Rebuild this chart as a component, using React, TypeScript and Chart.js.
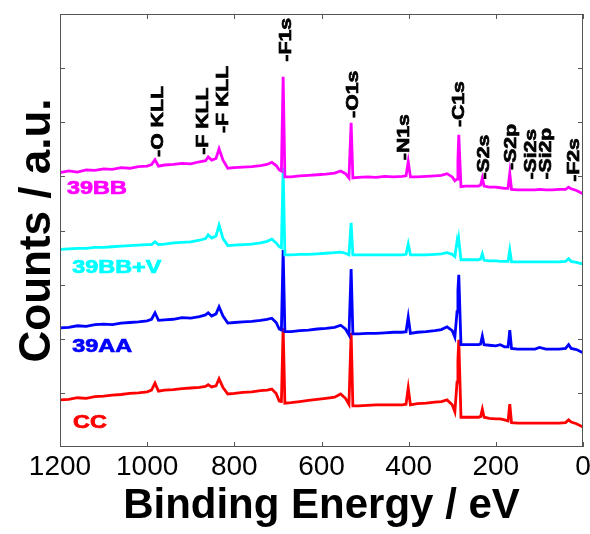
import React, { useEffect, useRef } from "react";
import { Chart, registerables } from "chart.js";

Chart.register(...registerables);

// ---------- data ----------
const energy = [
  1200, 1180, 1160, 1140, 1120, 1100, 1080, 1060, 1040, 1020,
  1000, 990, 982, 974, 960, 940, 920, 900, 880, 866,
  860, 852, 842, 835, 826, 815, 800, 780, 760, 740,
  725, 714, 704, 697, 692, 688, 684, 670, 650, 630,
  610, 590, 570, 556, 545, 537, 532, 528, 515, 495,
  475, 455, 435, 415, 406, 401, 396, 380, 360, 340,
  325, 312, 300, 294, 289, 287, 285, 280, 270, 255,
  240, 235, 231, 227, 215, 200, 190, 180, 172, 168,
  164, 150, 130, 110, 100, 85, 70, 55, 40, 33,
  27, 15, 0,
];

const counts39BB = [
  5.07, 5.1, 5.08, 5.12, 5.11, 5.14, 5.13, 5.16, 5.15, 5.18,
  5.19, 5.22, 5.31, 5.19, 5.21, 5.22, 5.24, 5.23, 5.27, 5.29,
  5.36, 5.3, 5.33, 5.51, 5.3, 5.15, 5.16, 5.17, 5.18, 5.2,
  5.22, 5.26, 5.2, 5.12, 5.1, 6.84, 4.99, 4.99, 5.01, 5.02,
  5.03, 5.04, 5.06, 5.1, 5.05, 4.97, 5.99, 4.97, 4.98, 4.99,
  4.98, 5.0, 4.99, 5.0, 5.01, 5.27, 4.99, 4.99, 5.0, 5.01,
  5.02, 5.05, 4.99, 4.92, 4.95, 5.3, 5.77, 4.81, 4.82, 4.82,
  4.82, 4.84, 4.97, 4.82, 4.8, 4.8, 4.79, 4.78, 4.78, 5.06,
  4.76, 4.75, 4.75, 4.75, 4.76, 4.75, 4.75, 4.76, 4.76, 4.8,
  4.77, 4.74, 4.68,
];

const counts39BBV = [
  3.65, 3.66, 3.67, 3.67, 3.69, 3.69, 3.7, 3.71, 3.72, 3.73,
  3.74, 3.74, 3.79, 3.74, 3.75, 3.77, 3.78, 3.79, 3.82, 3.85,
  3.92, 3.86, 3.9, 4.1, 3.85, 3.72, 3.73, 3.74, 3.75, 3.77,
  3.8, 3.84, 3.77, 3.7, 3.68, 5.16, 3.55, 3.55, 3.56, 3.56,
  3.57, 3.58, 3.59, 3.6, 3.58, 3.55, 4.14, 3.55, 3.55, 3.55,
  3.55, 3.55, 3.55, 3.55, 3.56, 3.75, 3.55, 3.55, 3.55, 3.56,
  3.57, 3.59, 3.56, 3.52, 3.8, 3.7, 3.83, 3.46, 3.46, 3.46,
  3.46, 3.47, 3.57, 3.45, 3.44, 3.44, 3.43, 3.43, 3.43, 3.64,
  3.42, 3.42, 3.42, 3.42, 3.42, 3.42, 3.42, 3.42, 3.43, 3.48,
  3.43, 3.41, 3.38,
];

const counts39AA = [
  2.2, 2.21, 2.24, 2.23, 2.26, 2.27, 2.26, 2.29, 2.3, 2.31,
  2.33, 2.36, 2.48, 2.34, 2.35, 2.36, 2.39, 2.38, 2.41, 2.44,
  2.48, 2.42, 2.46, 2.59, 2.42, 2.29, 2.3, 2.31, 2.32, 2.34,
  2.36, 2.38, 2.3, 2.18, 2.16, 3.64, 2.13, 2.13, 2.15, 2.16,
  2.18, 2.19, 2.21, 2.25, 2.18, 2.07, 3.29, 2.09, 2.09, 2.1,
  2.1, 2.11, 2.12, 2.12, 2.13, 2.4, 2.1, 2.12, 2.13, 2.15,
  2.17, 2.22, 2.15, 2.03, 2.5, 2.9, 3.18, 1.89, 1.89, 1.89,
  1.89, 1.9, 2.05, 1.89, 1.88, 1.87, 1.89, 1.85, 1.85, 2.16,
  1.82, 1.81, 1.81, 1.81, 1.84, 1.81, 1.81, 1.81, 1.82, 1.89,
  1.82, 1.8, 1.74,
];

const countsCC = [
  0.87, 0.88, 0.91, 0.9, 0.93, 0.94, 0.96, 0.97, 0.99, 1.0,
  1.02, 1.05, 1.18, 1.03, 1.05, 1.06, 1.08, 1.09, 1.1, 1.12,
  1.15, 1.11, 1.13, 1.26, 1.1, 0.98, 0.99, 1.01, 1.02, 1.04,
  1.05, 1.07, 0.99, 0.85, 0.84, 2.2, 0.81, 0.82, 0.84, 0.86,
  0.88, 0.9, 0.92, 0.98, 0.9, 0.79, 2.11, 0.76, 0.76, 0.77,
  0.78, 0.78, 0.78, 0.78, 0.79, 1.09, 0.78, 0.8, 0.81, 0.83,
  0.84, 0.87, 0.78, 0.65, 1.2, 1.6, 1.98, 0.55, 0.55, 0.55,
  0.55, 0.56, 0.7, 0.55, 0.53, 0.52, 0.52, 0.5, 0.48, 0.79,
  0.45, 0.44, 0.44, 0.44, 0.44, 0.44, 0.44, 0.44, 0.45, 0.5,
  0.46, 0.43, 0.37,
];

const seriesNames = ["39BB", "39BB+V", "39AA", "CC"];
const xTickValues = [1200, 1000, 800, 600, 400, 200, 0];
const yTickValues = [1, 2, 3, 4, 5, 6, 7];
const peakNames = ["-O KLL", "-F KLL", "-F KLL", "-F1s", "-O1s", "-N1s", "-C1s", "-S2s", "-S2p", "-Si2s", "-Si2p", "-F2s"];
const peakEnergies = [977, 874, 828, 684, 530, 413, 287, 230, 168, 122, 87, 23];

// ---------- layout / style (not data) ----------
const seriesColors = ["#ff00ff", "#00ffff", "#0000ff", "#ff0000"];
const seriesLabelAnchors = [
  { e: 1184, v: 4.77 },
  { e: 1172, v: 3.31 },
  { e: 1172, v: 1.85 },
  { e: 1170, v: 0.44 },
];
const peakLabelBases = [5.36, 5.4, 5.8, 7.12, 6.08, 5.3, 5.91, 4.94, 5.12, 4.94, 4.94, 4.9];
const FONT = '"Liberation Sans", Arial, Helvetica, sans-serif';

function stretchedText(ctx: CanvasRenderingContext2D, text: string, x: number, y: number, rot: number, stretch: number, stroke = 0) {
  ctx.save();
  ctx.translate(x, y);
  ctx.rotate(rot);
  ctx.scale(stretch, 1);
  ctx.fillText(text, 0, 0);
  if (stroke > 0) {
    ctx.lineWidth = stroke;
    ctx.strokeStyle = ctx.fillStyle as string;
    ctx.strokeText(text, 0, 0);
  }
  ctx.restore();
}

const decorPlugin = {
  id: "xpsDecor",
  afterDraw(chart: any) {
    const { ctx, chartArea: a, scales } = chart;
    const xs = scales.x;
    const ys = scales.y;
    ctx.save();
    // frame
    ctx.strokeStyle = "#555555";
    ctx.lineWidth = 1;
    ctx.strokeRect(a.left + 0.5, a.top + 0.5, a.right - a.left - 1, a.bottom - a.top - 1);
    // inward ticks
    ctx.beginPath();
    for (const t of xTickValues) {
      const px = Math.round(xs.getPixelForValue(t)) + 0.5;
      ctx.moveTo(px, a.bottom);
      ctx.lineTo(px, a.bottom - 5);
      ctx.moveTo(px, a.top);
      ctx.lineTo(px, a.top + 5);
    }
    for (const t of yTickValues) {
      const py = Math.round(ys.getPixelForValue(t)) + 0.5;
      ctx.moveTo(a.left, py);
      ctx.lineTo(a.left + 5, py);
      ctx.moveTo(a.right, py);
      ctx.lineTo(a.right - 5, py);
    }
    ctx.stroke();

    // x tick labels
    ctx.fillStyle = "#000";
    ctx.font = `28px ${FONT}`;
    ctx.textAlign = "center";
    ctx.textBaseline = "middle";
    for (const t of xTickValues) {
      ctx.fillText(String(t), xs.getPixelForValue(t), a.bottom + 20);
    }
    // x title
    ctx.font = `bold 42px ${FONT}`;
    ctx.textBaseline = "alphabetic";
    ctx.fillText("Binding Energy / eV", (a.left + a.right) / 2, 518);
    // y title
    ctx.font = `bold 44px ${FONT}`;
    ctx.textAlign = "center";
    stretchedText(ctx, "Counts / a.u.", 50, (a.top + a.bottom) / 2, -Math.PI / 2, 1);

    // peak labels
    ctx.font = `bold 17px ${FONT}`;
    ctx.textAlign = "left";
    ctx.textBaseline = "alphabetic";
    peakNames.forEach((name, i) => {
      const px = xs.getPixelForValue(peakEnergies[i]) + 6;
      const py = ys.getPixelForValue(peakLabelBases[i]);
      stretchedText(ctx, name, px, py, -Math.PI / 2, 1.25, 0.7);
    });

    // series labels
    ctx.font = `bold 18px ${FONT}`;
    ctx.textBaseline = "middle";
    seriesNames.forEach((name, i) => {
      ctx.fillStyle = seriesColors[i];
      const px = xs.getPixelForValue(seriesLabelAnchors[i].e);
      const py = ys.getPixelForValue(seriesLabelAnchors[i].v);
      stretchedText(ctx, name, px, py, 0, 1.3, 0.7);
    });
    ctx.restore();
  },
};

export default function App() {
  const canvasRef = useRef<HTMLCanvasElement | null>(null);

  useEffect(() => {
    document.body.style.margin = "0";
    const canvas = canvasRef.current;
    if (!canvas) return;
    const seriesValues = [counts39BB, counts39BBV, counts39AA, countsCC];
    const chart = new Chart(canvas, {
      type: "line",
      data: {
        datasets: seriesValues.map((vals, i) => ({
          label: seriesNames[i],
          data: energy.map((e, k) => ({ x: e, y: vals[k] })),
          borderColor: seriesColors[i],
          backgroundColor: seriesColors[i],
          borderWidth: 2.8,
          pointRadius: 0,
          tension: 0,
          fill: false,
        })),
      },
      options: {
        responsive: false,
        animation: false,
        events: [],
        layout: { padding: { left: 60, right: 7, top: 14, bottom: 87 } },
        plugins: { legend: { display: false }, tooltip: { enabled: false } },
        scales: {
          x: { type: "linear", display: false, min: 0, max: 1200, reverse: true },
          y: { type: "linear", display: false, min: 0, max: 8 },
        },
      },
      plugins: [decorPlugin],
    });
    return () => chart.destroy();
  }, []);

  return (
    <div style={{ position: "absolute", left: 0, top: 0, width: 590, height: 534, background: "#fff" }}>
      <canvas ref={canvasRef} width={590} height={534} style={{ width: 590, height: 534, display: "block" }} />
    </div>
  );
}
